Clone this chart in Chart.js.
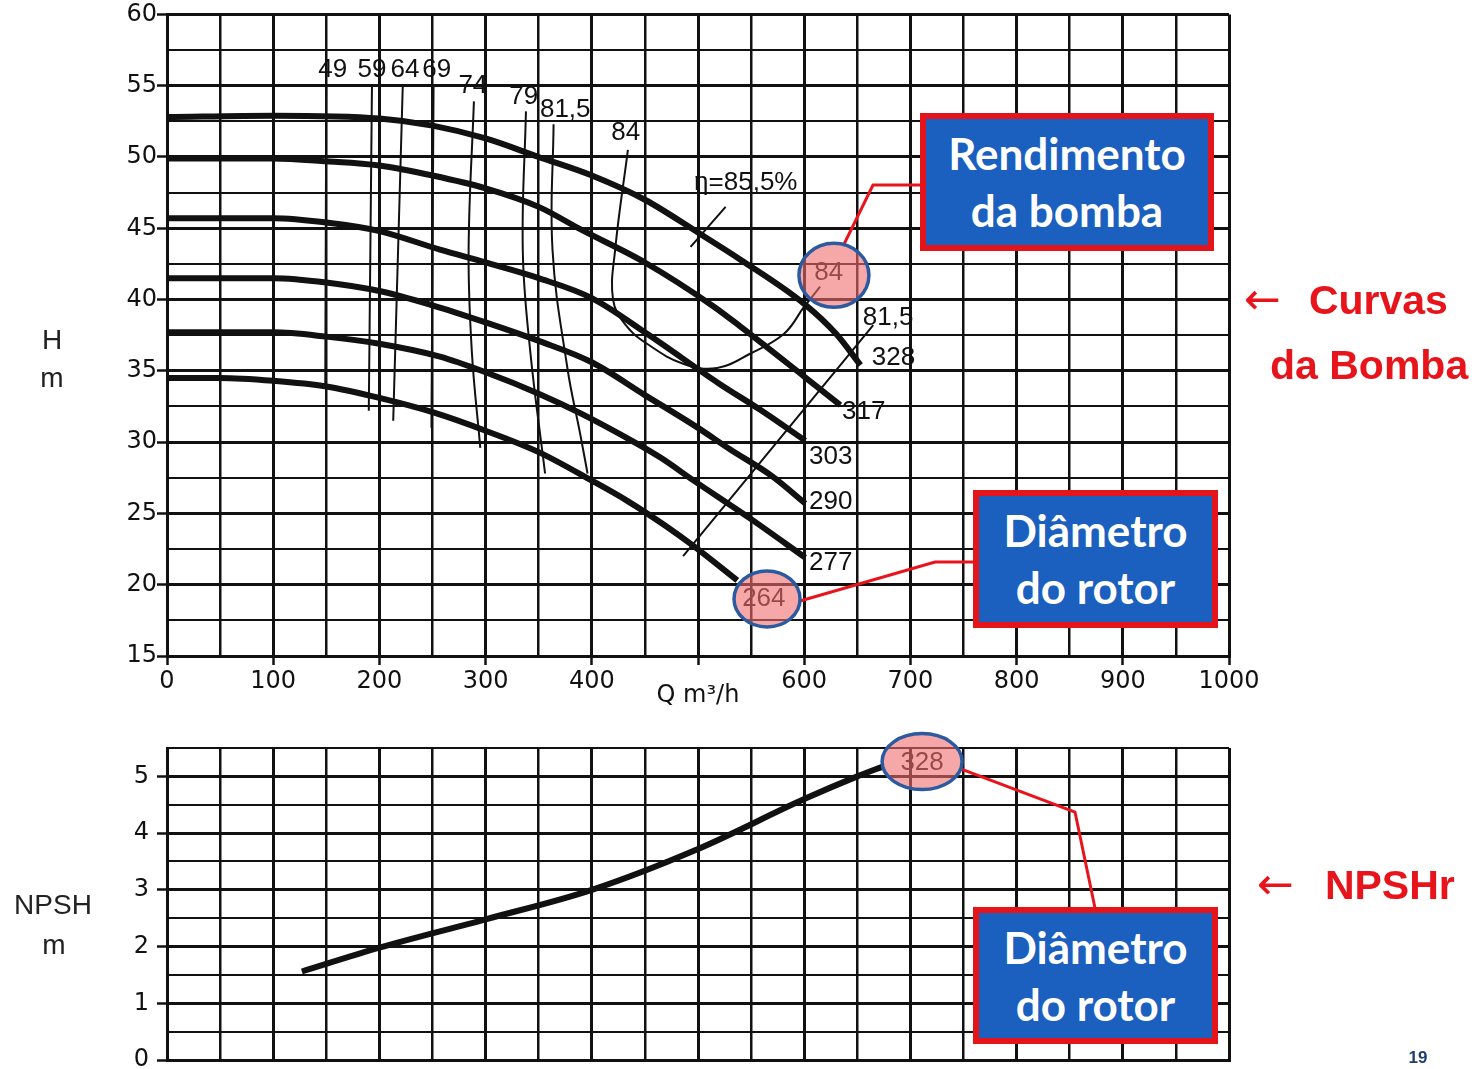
<!DOCTYPE html>
<html lang="pt">
<head>
<meta charset="utf-8">
<title>Curvas da Bomba</title>
<script src="https://cdn.jsdelivr.net/npm/chart.js@4.4.1/dist/chart.umd.min.js"></script>
<style>
  body { margin: 0; background: #fff; }
  #page { position: relative; width: 1481px; height: 1069px; overflow: hidden; background: #fff; }
  canvas { position: absolute; left: 0; }
  #headChart { top: 0; }
  #npshChart { top: 720px; }
  .t { position: absolute; transform: translate(-50%, -50%); white-space: nowrap; }
  .axisTitle { font-family: "Liberation Sans", sans-serif; font-size: 28px; color: #222; }
  .box { position: absolute; box-sizing: border-box; background: #1b5fbf; border: 6px solid #e3151b;
         color: #fff; font-family: Lato, sans-serif; font-weight: 700; font-size: 44px; line-height: 57px;
         text-align: center; display: flex; flex-direction: column; justify-content: center; }
  .side { position: absolute; font-family: "Liberation Sans", sans-serif; font-weight: 700; font-size: 41px;
          color: #e8141b; white-space: nowrap; line-height: 41px; }
  .arrow { font-family: "DejaVu Sans", sans-serif; font-weight: 400; font-size: 44px; }
</style>
</head>
<body>
<div id="page">
  <canvas id="headChart" width="1481" height="720"></canvas>
  <canvas id="npshChart" width="1481" height="380"></canvas>

  <div class="t axisTitle" style="left:52px;top:340px">H</div>
  <div class="t axisTitle" style="left:52px;top:378px">m</div>
  <div class="t axisTitle" style="left:53px;top:905px">NPSH</div>
  <div class="t axisTitle" style="left:54px;top:945px">m</div>

  <div class="box" style="left:920px;top:113px;width:294px;height:138px"><div>Rendimento</div><div>da bomba</div></div>
  <div class="box" style="left:973px;top:490px;width:245px;height:138px"><div>Diâmetro</div><div>do rotor</div></div>
  <div class="box" style="left:973px;top:907px;width:245px;height:137px"><div>Diâmetro</div><div>do rotor</div></div>

  <div class="side" style="left:1244px;top:278px"><span class="arrow">←</span><span style="margin-left:28px">Curvas</span></div>
  <div class="side" style="left:1270px;top:345px">da Bomba</div>
  <div class="side" style="left:1257px;top:863px"><span class="arrow">←</span><span style="margin-left:31px">NPSHr</span></div>

  <div class="t" style="left:1418px;top:1058px;font:700 17px 'Liberation Sans',sans-serif;color:#1f3d6e">19</div>
</div>

<script>
// Axis tick labels
const qTickLabels = ['0', '100', '200', '300', '400', '', '600', '700', '800', '900', '1000'];
const headTickLabels = ['15', '20', '25', '30', '35', '40', '45', '50', '55', '60'];
const npshTickLabels = ['0', '1', '2', '3', '4', '5'];

// Head curves, Q (m³/h) vs H (m), one per impeller diameter (mm)
const diameterLabels = ['328', '317', '303', '290', '277', '264'];
const q328 = [0, 100, 200, 250, 300, 350, 400, 450, 500, 540, 600, 630, 653];
const h328 = [52.8, 52.9, 52.7, 52.2, 51.3, 50.0, 48.7, 47.0, 44.7, 42.8, 39.7, 37.6, 35.4];
const q317 = [0, 100, 150, 200, 250, 300, 350, 390, 450, 515, 540, 600, 634];
const h317 = [49.9, 49.9, 49.7, 49.4, 48.7, 47.8, 46.5, 44.9, 42.6, 39.5, 38.1, 34.6, 32.6];
const q303 = [0, 100, 150, 200, 257, 300, 350, 400, 452, 520, 560, 601];
const h303 = [45.7, 45.7, 45.4, 44.8, 43.5, 42.6, 41.5, 40.1, 37.6, 34.1, 32.2, 30.1];
const q290 = [0, 100, 150, 200, 250, 300, 350, 400, 450, 500, 530, 570, 601];
const h290 = [41.5, 41.5, 41.2, 40.6, 39.6, 38.4, 37.1, 35.6, 33.3, 31.0, 29.5, 27.6, 25.7];
const q277 = [0, 100, 150, 200, 257, 300, 350, 390, 440, 465, 496, 550, 601];
const h277 = [37.7, 37.7, 37.4, 36.9, 36.0, 34.9, 33.4, 32.0, 30.0, 28.9, 27.3, 24.6, 21.9];
const q264 = [0, 50, 100, 150, 200, 250, 300, 350, 400, 433, 470, 496, 537];
const h264 = [34.5, 34.5, 34.3, 33.9, 33.1, 32.1, 30.8, 29.3, 27.3, 25.9, 24.1, 22.7, 20.3];

// Iso-efficiency lines (%)
const q49 = [150, 149], h49 = [55.0, 33.8];
const q59 = [193, 190], h59 = [55.0, 32.2];
const q64 = [222, 213], h64 = [55.0, 31.5];
const q69 = [251, 249], h69 = [55.0, 31.0];
const q74 = [289, 284, 287, 295], h74 = [53.9, 43.5, 36.4, 29.6];
const q79 = [338, 335, 342, 356], h79 = [53.2, 43.5, 36.4, 27.8];
const q815 = [364, 363, 377, 389, 396], h815 = [52.3, 43.5, 35.2, 30.6, 27.8];
const q84 = [434, 422, 420, 432, 452, 486, 518, 549, 581, 600, 615];
const h84 = [50.5, 43.5, 40.0, 38.2, 36.9, 35.5, 35.2, 36.2, 37.6, 39.5, 40.9];
const q815Right = [665, 486], h815Right = [38.2, 22.0];
// best efficiency point marker (η = 85,5 %)
const qBep = [526, 493], hBep = [46.5, 43.7];
const qBepTick = [500, 500], hBepTick = [45.9, 43.5];

// Text written on the head chart, placed in Q / H units
const headNoteText = ['328', '317', '303', '290', '277', '264',
  '49', '59', '64', '69', '74', '79', '81,5', '84', '81,5', '84', 'η=85,5%'];
const headNoteQ = [684, 656, 625, 625, 625, 562, 156, 193, 224, 254, 288, 336, 375, 432, 679, 623, 545];
const headNoteH = [35.9, 32.1, 29.0, 25.8, 21.5, 19.0, 56.1, 56.1, 56.1, 56.1, 55.0, 54.2, 53.3, 51.7, 38.7, 41.9, 48.2];

// NPSH required for the 328 mm impeller
const qNpsh = [127, 200, 300, 400, 500, 600, 650, 675];
const nNpsh = [1.56, 1.98, 2.48, 3.0, 3.72, 4.6, 5.0, 5.18];
const npshNoteText = ['328'];
const npshNoteQ = [711];
const npshNoteN = [5.23];

const INK = '#111';

function pts(qs, vs) {
    return qs.map((q, i) => ({ x: q, y: vs[i] }));
}

function thick(qs, vs) {
    return { data: pts(qs, vs), borderColor: INK, borderWidth: 6, pointRadius: 0,
             cubicInterpolationMode: 'monotone', fill: false };
}

function thin(qs, vs) {
    return { data: pts(qs, vs), borderColor: INK, borderWidth: 2, pointRadius: 0, tension: 0.4, fill: false };
}

// Writes the curve labels, then the highlight rings and red leader lines
const notes = {
    id: 'notes',
    afterDatasetsDraw(chart, args, opts) {
        const { ctx } = chart;
        const x = chart.scales.x, y = chart.scales.y;
        ctx.save();
        ctx.fillStyle = INK;
        ctx.font = '26px "Liberation Sans"';
        ctx.textAlign = 'center';
        ctx.textBaseline = 'middle';
        opts.text.forEach((t, i) => {
            ctx.fillText(t, x.getPixelForValue(opts.q[i]), y.getPixelForValue(opts.v[i]));
        });
        ctx.restore();
    },
    afterDraw(chart, args, opts) {
        const { ctx } = chart;
        const x = chart.scales.x, y = chart.scales.y;
        ctx.save();
        opts.rings.forEach(r => {
            const cx = x.getPixelForValue(r.q), cy = y.getPixelForValue(r.v);
            ctx.strokeStyle = '#e8141b';
            ctx.lineWidth = 3;
            ctx.beginPath();
            ctx.moveTo(cx + r.from[0], cy + r.from[1]);
            r.path.forEach(p => ctx.lineTo(p[0], p[1]));
            ctx.stroke();

            ctx.beginPath();
            ctx.ellipse(cx, cy, r.rx, r.ry, 0, 0, Math.PI * 2);
            ctx.fillStyle = 'rgba(240,110,110,0.6)';
            ctx.fill();
            ctx.strokeStyle = '#2c5aa0';
            ctx.lineWidth = 3.5;
            ctx.stroke();
        });
        ctx.restore();
    }
};

const tickFont = { family: 'DejaVu Sans', size: 24 };

function qAxis(showLabels) {
    return {
        type: 'linear', min: 0, max: 1000,
        afterFit: s => { s.height = showLabels ? 64 : 40; },
        ticks: {
            display: showLabels, stepSize: 50, autoSkip: false, maxRotation: 0, padding: 2,
            color: INK, font: tickFont,
            callback: v => v % 100 === 0 ? qTickLabels[v / 100] : ''
        },
        grid: {
            color: INK, drawTicks: showLabels, tickLength: 9, tickWidth: 2.5,
            lineWidth: c => c.tick && c.tick.value % 100 === 0 ? 3 : 2.5,
            tickColor: c => c.tick && c.tick.value % 100 === 0 ? INK : 'rgba(0,0,0,0)'
        },
        border: { color: INK, width: 3 },
        title: {
            display: showLabels, text: 'Q m³/h', color: INK,
            font: { family: 'DejaVu Sans', size: 24 }, padding: { top: 0, bottom: 10 }
        }
    };
}

new Chart(document.getElementById('headChart'), {
    type: 'line',
    data: {
        datasets: [
            thick(q328, h328), thick(q317, h317), thick(q303, h303),
            thick(q290, h290), thick(q277, h277), thick(q264, h264),
            thin(q49, h49), thin(q59, h59), thin(q64, h64), thin(q69, h69),
            thin(q74, h74), thin(q79, h79), thin(q815, h815), thin(q84, h84),
            thin(q815Right, h815Right), thin(qBep, hBep), thin(qBepTick, hBepTick)
        ]
    },
    options: {
        responsive: false,
        animation: false,
        layout: { padding: { left: 0, right: 252, top: 14, bottom: 0 } },
        plugins: {
            legend: { display: false },
            tooltip: { enabled: false },
            notes: {
                text: headNoteText, q: headNoteQ, v: headNoteH,
                rings: [
                    { q: 628, v: 41.7, rx: 35, ry: 32, from: [10, -31], path: [[873, 185], [921, 185]] },
                    { q: 565, v: 19.0, rx: 33, ry: 28, from: [33, 2], path: [[935, 562], [975, 562]] }
                ]
            }
        },
        scales: {
            x: qAxis(true),
            y: {
                type: 'linear', min: 15, max: 60,
                afterFit: s => { s.width = 167; },
                ticks: {
                    stepSize: 2.5, autoSkip: false, padding: 0, color: INK, font: tickFont,
                    callback: v => v % 5 === 0 ? headTickLabels[(v - 15) / 5] : ''
                },
                grid: {
                    color: INK, tickLength: 10, tickWidth: 2.5,
                    lineWidth: c => c.tick && c.tick.value % 5 === 0 ? 3 : 2,
                    tickColor: c => c.tick && c.tick.value % 5 === 0 ? INK : 'rgba(0,0,0,0)'
                },
                border: { color: INK, width: 3 }
            }
        }
    },
    plugins: [notes]
});

new Chart(document.getElementById('npshChart'), {
    type: 'line',
    data: {
        datasets: [thick(qNpsh, nNpsh)]
    },
    options: {
        responsive: false,
        animation: false,
        layout: { padding: { left: 0, right: 252, top: 28, bottom: 0 } },
        plugins: {
            legend: { display: false },
            tooltip: { enabled: false },
            notes: {
                text: npshNoteText, q: npshNoteQ, v: npshNoteN,
                rings: [
                    { q: 711, v: 5.26, rx: 40, ry: 28, from: [38, 7], path: [[1075, 92], [1095, 188]] }
                ]
            }
        },
        scales: {
            x: qAxis(false),
            y: {
                type: 'linear', min: 0, max: 5.5,
                afterFit: s => { s.width = 167; },
                ticks: {
                    stepSize: 0.5, autoSkip: false, padding: 8, color: INK, font: tickFont,
                    callback: v => Number.isInteger(v) ? npshTickLabels[v] : ''
                },
                grid: {
                    color: INK, tickLength: 10, tickWidth: 2.5,
                    lineWidth: c => c.tick && Number.isInteger(c.tick.value) ? 3 : 2,
                    tickColor: c => c.tick && Number.isInteger(c.tick.value) ? INK : 'rgba(0,0,0,0)'
                },
                border: { color: INK, width: 3 }
            }
        }
    },
    plugins: [notes]
});
</script>
</body>
</html>
